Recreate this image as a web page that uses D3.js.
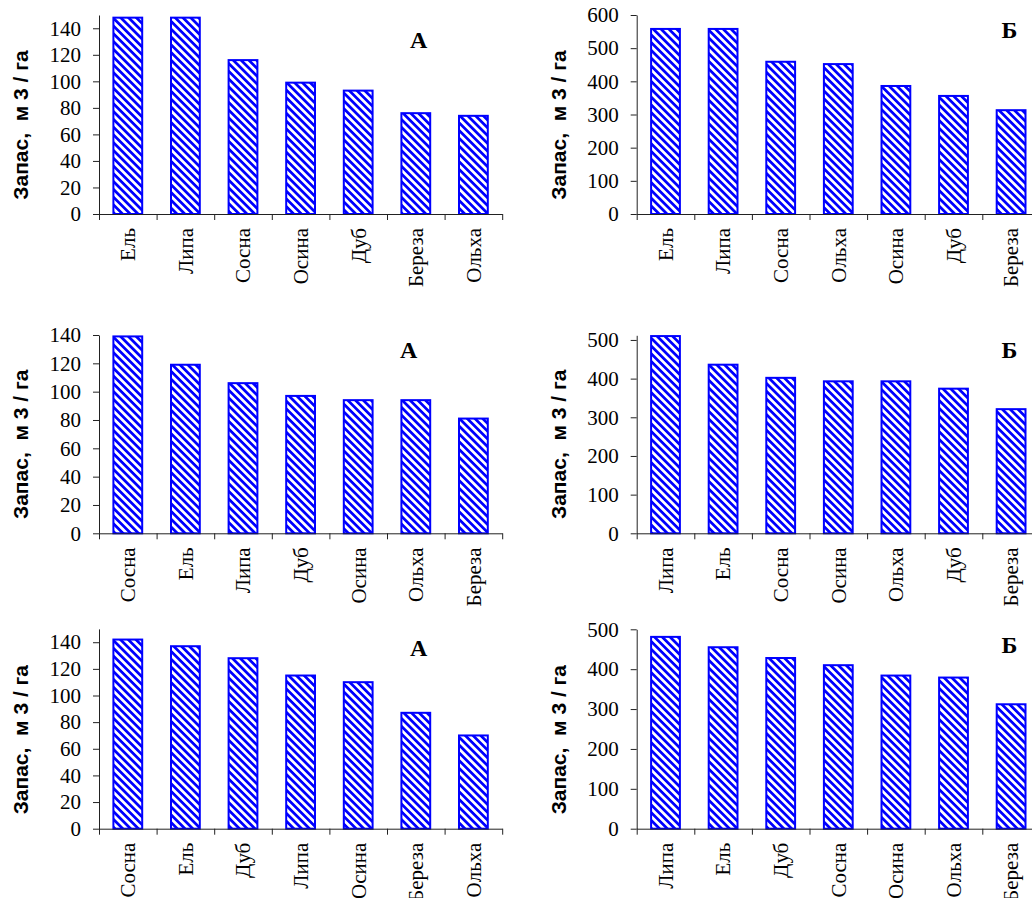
<!DOCTYPE html>
<html lang="ru">
<head>
<meta charset="utf-8">
<script src="https://cdn.jsdelivr.net/npm/d3@7"></script>
<style>
  html, body { margin: 0; padding: 0; background: #fff; }
  svg { display: block; }
</style>
</head>
<body>
<svg id="chart" width="1032" height="898"></svg>
<script>
// Запас древесины по породам (м3/га): три пары диаграмм, А — слева, Б — справа
const species1 = ["Ель", "Липа", "Сосна", "Осина", "Дуб", "Береза", "Ольха"];
const stock1   = [148, 148, 116, 99, 93, 76, 74];

const species2 = ["Ель", "Липа", "Сосна", "Ольха", "Осина", "Дуб", "Береза"];
const stock2   = [558, 558, 459, 452, 386, 356, 313];

const species3 = ["Сосна", "Ель", "Липа", "Дуб", "Осина", "Ольха", "Береза"];
const stock3   = [139, 119, 106, 97, 94, 94, 81];

const species4 = ["Липа", "Ель", "Сосна", "Осина", "Ольха", "Дуб", "Береза"];
const stock4   = [510, 436, 402, 393, 393, 374, 321];

const species5 = ["Сосна", "Ель", "Дуб", "Липа", "Осина", "Береза", "Ольха"];
const stock5   = [142, 137, 128, 115, 110, 87, 70];

const species6 = ["Липа", "Ель", "Дуб", "Сосна", "Осина", "Ольха", "Береза"];
const stock6   = [481, 455, 428, 410, 384, 379, 312];

// Деления осей значений
const ticks140 = [0, 20, 40, 60, 80, 100, 120, 140];
const ticks600 = [0, 100, 200, 300, 400, 500, 600];
const ticks500 = [0, 100, 200, 300, 400, 500];
const axisMax  = [150, 600, 140, 512, 150, 500];

const panelLetters = ["А", "Б", "А", "Б", "А", "Б"];
const yTitle = "Запас,  м 3 / га";

// Размещение панелей
const STEP = 57.6;
const panels = [
  { cats: species1, vals: stock1, ticks: ticks140, max: axisMax[0], x0: 99,    y0: 214,   yTop: 15,    lx: 410,    ly: 47.5 },
  { cats: species2, vals: stock2, ticks: ticks600, max: axisMax[1], x0: 636.7, y0: 214,   yTop: 15,    lx: 1001.5, ly: 37.5 },
  { cats: species3, vals: stock3, ticks: ticks140, max: axisMax[2], x0: 99,    y0: 533.3, yTop: 335,   lx: 400,    ly: 357.5 },
  { cats: species4, vals: stock4, ticks: ticks500, max: axisMax[3], x0: 636.7, y0: 533.3, yTop: 335.3, lx: 1001.5, ly: 357.5 },
  { cats: species5, vals: stock5, ticks: ticks140, max: axisMax[4], x0: 99,    y0: 828.7, yTop: 628.9, lx: 410,    ly: 656 },
  { cats: species6, vals: stock6, ticks: ticks500, max: axisMax[5], x0: 636.7, y0: 828.7, yTop: 629.3, lx: 1001.5, ly: 652.5 }
];

const svg = d3.select("#chart");
svg.append("rect").attr("width", 1032).attr("height", 898).attr("fill", "#fff");

// Диагональная штриховка столбиков
const defs = svg.append("defs");
const pat = defs.append("pattern")
  .attr("id", "hatch")
  .attr("patternUnits", "userSpaceOnUse")
  .attr("width", 5.5).attr("height", 5.5)
  .attr("patternTransform", "rotate(-45)");
pat.append("rect").attr("width", 5.5).attr("height", 5.5).attr("fill", "#fff");
pat.append("rect").attr("width", 2.75).attr("height", 5.5).attr("fill", "#0000ff");

const AXIS = "#222";
const SERIF = "'Liberation Serif', 'Times New Roman', serif";
const SANS = "'Liberation Sans', Arial, sans-serif";

panels.forEach((p, i) => {
  const g = svg.append("g");
  const n = p.cats.length;
  const x = d3.scaleBand().domain(p.cats)
    .range([p.x0, p.x0 + n * STEP])
    .paddingInner(0.5).paddingOuter(0.25);
  const y = d3.scaleLinear().domain([0, p.max]).range([p.y0, p.yTop]);
  const bounds = d3.scaleLinear().domain([0, n]).range([p.x0, p.x0 + n * STEP]);

  // Столбики
  g.selectAll("rect.bar")
    .data(p.cats.map((c, k) => ({ c, v: p.vals[k] })))
    .join("rect")
    .attr("class", "bar")
    .attr("x", d => x(d.c))
    .attr("y", d => y(d.v))
    .attr("width", x.bandwidth())
    .attr("height", d => y(0) - y(d.v))
    .attr("fill", "url(#hatch)")
    .attr("stroke", "#0000ff")
    .attr("stroke-width", 2);

  // Ось значений
  const yAxis = g.append("g")
    .attr("transform", `translate(${p.x0},0)`)
    .call(d3.axisLeft(y).tickValues(p.ticks).tickSize(6).tickSizeOuter(0).tickPadding(12));
  yAxis.select(".domain").attr("stroke", AXIS);
  yAxis.selectAll(".tick line").attr("stroke", AXIS);
  yAxis.selectAll(".tick text")
    .attr("fill", "#000")
    .style("font-family", SERIF)
    .style("font-size", "21px");

  // Ось категорий: деления на границах групп
  const xAxis = g.append("g")
    .attr("transform", `translate(0,${p.y0})`)
    .call(d3.axisBottom(bounds).tickValues(d3.range(n + 1)).tickSize(6).tickSizeOuter(0).tickFormat(""));
  xAxis.select(".domain").attr("stroke", AXIS);
  xAxis.selectAll(".tick line").attr("stroke", AXIS);

  // Подписи пород
  g.selectAll("text.cat")
    .data(p.cats)
    .join("text")
    .attr("class", "cat")
    .attr("transform", c => `translate(${x(c) + x.bandwidth() / 2},${p.y0 + 14}) rotate(-90)`)
    .attr("dy", "0.35em")
    .attr("text-anchor", "end")
    .attr("fill", "#000")
    .style("font-family", SERIF)
    .style("font-size", "21px")
    .text(c => c);

  // Заголовок оси значений
  g.append("text")
    .attr("transform", `translate(${p.x0 - 71},${p.y0 - 89}) rotate(-90)`)
    .attr("text-anchor", "middle")
    .attr("fill", "#000")
    .style("font-family", SANS)
    .style("font-weight", "bold")
    .style("font-size", "21px")
    .style("white-space", "pre")
    .text(yTitle);

  // Буква панели
  g.append("text")
    .attr("x", p.lx)
    .attr("y", p.ly)
    .attr("fill", "#000")
    .style("font-family", SERIF)
    .style("font-weight", "bold")
    .style("font-size", "24px")
    .text(panelLetters[i]);
});
</script>
</body>
</html>
